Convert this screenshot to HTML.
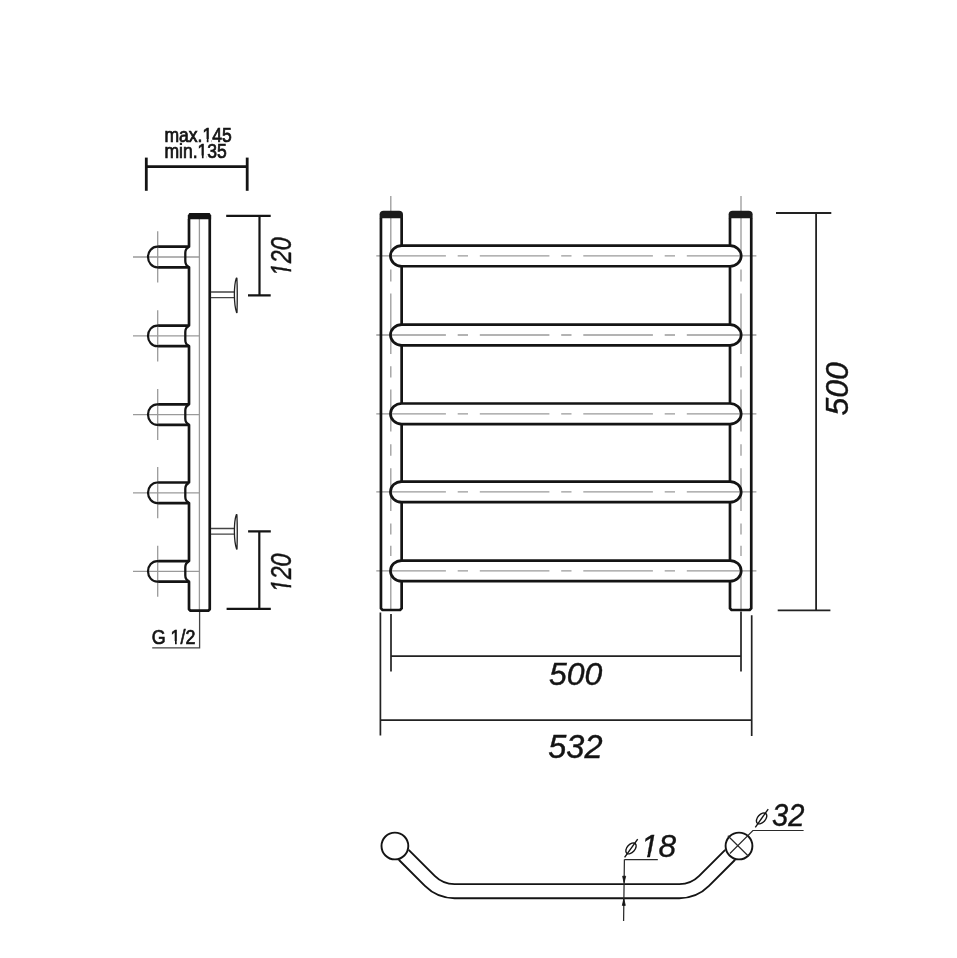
<!DOCTYPE html>
<html><head><meta charset="utf-8"><style>
html,body{margin:0;padding:0;background:#fff;width:957px;height:958px;overflow:hidden}
svg{display:block;will-change:transform}
text{font-family:"Liberation Sans",sans-serif}
</style></head><body>
<svg width="957" height="958" viewBox="0 0 957 958">
<defs><clipPath id="c1" clipPathUnits="userSpaceOnUse"><path clip-rule="evenodd" d="M-100,-100 H10000 V100 H-100 Z M42.26,1.90 L42.26,-2.48 L47.12,-2.48 L47.12,1.90 Z M48.92,1.90 L48.92,-2.48 L52.59,-2.48 L52.59,1.90 Z "/></clipPath><clipPath id="c2" clipPathUnits="userSpaceOnUse"><path clip-rule="evenodd" d="M-100,-100 H10000 V100 H-100 Z M36.84,1.90 L36.84,-2.48 L41.70,-2.48 L41.70,1.90 Z M43.50,1.90 L43.50,-2.48 L47.17,-2.48 L47.17,1.90 Z "/></clipPath><clipPath id="c3" clipPathUnits="userSpaceOnUse"><path clip-rule="evenodd" d="M-100,-100 H10000 V100 H-100 Z M21.43,1.98 L21.43,-2.58 L26.50,-2.58 L26.50,1.98 Z M28.37,1.98 L28.37,-2.58 L32.18,-2.58 L32.18,1.98 Z "/></clipPath><clipPath id="c4" clipPathUnits="userSpaceOnUse"><path clip-rule="evenodd" d="M-100,-100 H10000 V100 H-100 Z M0.00,2.83 L0.00,-3.68 L6.50,-3.68 L5.23,2.83 Z M7.91,2.83 L9.17,-3.68 L14.16,-3.68 L14.16,2.83 Z "/></clipPath><clipPath id="c5" clipPathUnits="userSpaceOnUse"><path clip-rule="evenodd" d="M-100,-100 H10000 V100 H-100 Z M0.00,2.83 L0.00,-3.68 L6.50,-3.68 L5.23,2.83 Z M7.91,2.83 L9.17,-3.68 L14.16,-3.68 L14.16,2.83 Z "/></clipPath><clipPath id="c6" clipPathUnits="userSpaceOnUse"><path clip-rule="evenodd" d="M-100,-100 H10000 V100 H-100 Z M0.00,3.10 L0.00,-4.02 L7.10,-4.02 L5.72,3.10 Z M8.64,3.10 L10.03,-4.02 L15.48,-4.02 L15.48,3.10 Z "/></clipPath></defs>
<rect width="957" height="958" fill="#fff"/>
<line x1="199.4" y1="219" x2="199.4" y2="611" stroke="#9a9a9a" stroke-width="1.3"/>
<polyline points="199.6,611 199.6,647.9 152.2,647.9" fill="none" stroke="#444" stroke-width="1.3"/>
<line x1="133" y1="257.00" x2="199" y2="257.00" stroke="#9a9a9a" stroke-width="1.3"/>
<line x1="157.7" y1="231.30" x2="157.7" y2="282.50" stroke="#9a9a9a" stroke-width="1.3"/>
<line x1="133" y1="335.90" x2="199" y2="335.90" stroke="#9a9a9a" stroke-width="1.3"/>
<line x1="157.7" y1="310.20" x2="157.7" y2="361.40" stroke="#9a9a9a" stroke-width="1.3"/>
<line x1="133" y1="414.60" x2="199" y2="414.60" stroke="#9a9a9a" stroke-width="1.3"/>
<line x1="157.7" y1="388.90" x2="157.7" y2="440.10" stroke="#9a9a9a" stroke-width="1.3"/>
<line x1="133" y1="492.80" x2="199" y2="492.80" stroke="#9a9a9a" stroke-width="1.3"/>
<line x1="157.7" y1="467.10" x2="157.7" y2="518.30" stroke="#9a9a9a" stroke-width="1.3"/>
<line x1="133" y1="571.35" x2="199" y2="571.35" stroke="#9a9a9a" stroke-width="1.3"/>
<line x1="157.7" y1="545.65" x2="157.7" y2="596.85" stroke="#9a9a9a" stroke-width="1.3"/>
<path d="M189.0,219.0 L189.0,246.70 L158.3,246.70 M158.3,267.30 L189.0,267.30 L189.0,325.60 L158.3,325.60 M158.3,346.20 L189.0,346.20 L189.0,404.30 L158.3,404.30 M158.3,424.90 L189.0,424.90 L189.0,482.50 L158.3,482.50 M158.3,503.10 L189.0,503.10 L189.0,561.05 L158.3,561.05 M158.3,581.65 L189.0,581.65 L189.0,609.2 L190.5,610.7 L208.25,610.7 L209.75,609.2 L209.75,219.0" fill="none" stroke="#141414" stroke-width="2.7" stroke-linejoin="round"/>
<path d="M158.8,246.70 L157.2,246.70 A9.2,10.3 0 0 0 157.2,267.30 L158.8,267.30" fill="none" stroke="#141414" stroke-width="2.2"/>
<path d="M188.7,247.30 C186.2,248.30 185.3,249.70 185.3,253.00 L185.3,261.00 C185.3,264.30 186.2,265.70 188.7,266.70" fill="none" stroke="#141414" stroke-width="2.3"/>
<path d="M158.8,325.60 L157.2,325.60 A9.2,10.3 0 0 0 157.2,346.20 L158.8,346.20" fill="none" stroke="#141414" stroke-width="2.2"/>
<path d="M188.7,326.20 C186.2,327.20 185.3,328.60 185.3,331.90 L185.3,339.90 C185.3,343.20 186.2,344.60 188.7,345.60" fill="none" stroke="#141414" stroke-width="2.3"/>
<path d="M158.8,404.30 L157.2,404.30 A9.2,10.3 0 0 0 157.2,424.90 L158.8,424.90" fill="none" stroke="#141414" stroke-width="2.2"/>
<path d="M188.7,404.90 C186.2,405.90 185.3,407.30 185.3,410.60 L185.3,418.60 C185.3,421.90 186.2,423.30 188.7,424.30" fill="none" stroke="#141414" stroke-width="2.3"/>
<path d="M158.8,482.50 L157.2,482.50 A9.2,10.3 0 0 0 157.2,503.10 L158.8,503.10" fill="none" stroke="#141414" stroke-width="2.2"/>
<path d="M188.7,483.10 C186.2,484.10 185.3,485.50 185.3,488.80 L185.3,496.80 C185.3,500.10 186.2,501.50 188.7,502.50" fill="none" stroke="#141414" stroke-width="2.3"/>
<path d="M158.8,561.05 L157.2,561.05 A9.2,10.3 0 0 0 157.2,581.65 L158.8,581.65" fill="none" stroke="#141414" stroke-width="2.2"/>
<path d="M188.7,561.65 C186.2,562.65 185.3,564.05 185.3,567.35 L185.3,575.35 C185.3,578.65 186.2,580.05 188.7,581.05" fill="none" stroke="#141414" stroke-width="2.3"/>
<path d="M187.8,219.3 L187.8,215.5 L189.3,213 L209.7,213 L211.2,215.5 L211.2,219.3 Z" fill="#141414"/>
<line x1="146.3" y1="166.6" x2="247.2" y2="166.6" stroke="#141414" stroke-width="2.8"/>
<line x1="146.3" y1="157.6" x2="146.3" y2="190.8" stroke="#141414" stroke-width="2.8"/>
<line x1="247.2" y1="157.6" x2="247.2" y2="190.8" stroke="#141414" stroke-width="2.8"/>
<g transform="translate(164.4,141.6) scale(0.9,1)"><text x="0" y="0" font-size="19.5" fill="#141414" stroke="#141414" stroke-width="0.75" clip-path="url(#c1)">max.145</text></g>
<g transform="translate(164.4,158.0) scale(0.9,1)"><text x="0" y="0" font-size="19.5" fill="#141414" stroke="#141414" stroke-width="0.75" clip-path="url(#c2)">min.135</text></g>
<g transform="translate(151.7,643.6) scale(0.88,1)"><text x="0" y="0" font-size="20.3" fill="#141414" stroke="#141414" stroke-width="0.7" clip-path="url(#c3)">G 1/2</text></g>
<path d="M211,292.00 L234.2,292.00 M211,297.60 L234.2,297.60" stroke="#444" stroke-width="1.4" fill="none"/>
<path d="M236.3,278.20 C233.7,285.80 233.7,303.80 236.6,312.60 L237.0,312.60 C237.3,302.80 237.3,286.80 236.9,278.20 Z" fill="#fff" stroke="#222" stroke-width="1.3" stroke-linejoin="round"/>
<path d="M211,528.50 L234.2,528.50 M211,534.10 L234.2,534.10" stroke="#444" stroke-width="1.4" fill="none"/>
<path d="M236.3,514.70 C233.7,522.30 233.7,540.30 236.6,549.10 L237.0,549.10 C237.3,539.30 237.3,523.30 236.9,514.70 Z" fill="#fff" stroke="#222" stroke-width="1.3" stroke-linejoin="round"/>
<path d="M226.2,215.9 L270.7,215.9 M259.5,215.9 L259.5,295.4 M248,295.4 L270.7,295.4" stroke="#141414" stroke-width="2.2" fill="none"/>
<path d="M248.1,531.3 L270.8,531.3 M259.3,531.3 L259.3,608.9 M226.6,608.9 L270.8,608.9" stroke="#141414" stroke-width="2.2" fill="none"/>
<g transform="translate(290.6,276.1) rotate(-90) scale(0.8,1)"><text x="0" y="0" font-size="29" font-style="italic" fill="#141414" stroke="#141414" stroke-width="0.45" clip-path="url(#c4)">120</text></g>
<g transform="translate(291.2,592.2) rotate(-90) scale(0.8,1)"><text x="0" y="0" font-size="29" font-style="italic" fill="#141414" stroke="#141414" stroke-width="0.45" clip-path="url(#c5)">120</text></g>
<line x1="376.3" y1="255.95" x2="756.5" y2="255.95" stroke="#9a9a9a" stroke-width="1.3" stroke-dasharray="69.6,11.8,10.3,11.8"/>
<line x1="376.3" y1="335.00" x2="756.5" y2="335.00" stroke="#9a9a9a" stroke-width="1.3" stroke-dasharray="69.6,11.8,10.3,11.8"/>
<line x1="376.3" y1="413.80" x2="756.5" y2="413.80" stroke="#9a9a9a" stroke-width="1.3" stroke-dasharray="69.6,11.8,10.3,11.8"/>
<line x1="376.3" y1="491.90" x2="756.5" y2="491.90" stroke="#9a9a9a" stroke-width="1.3" stroke-dasharray="69.6,11.8,10.3,11.8"/>
<line x1="376.3" y1="570.90" x2="756.5" y2="570.90" stroke="#9a9a9a" stroke-width="1.3" stroke-dasharray="69.6,11.8,10.3,11.8"/>
<line x1="390.8" y1="196" x2="390.8" y2="257" stroke="#9a9a9a" stroke-width="1.3"/>
<line x1="390.8" y1="269.4" x2="390.8" y2="281.4" stroke="#9a9a9a" stroke-width="1.3"/>
<line x1="390.8" y1="293.4" x2="390.8" y2="354" stroke="#9a9a9a" stroke-width="1.3"/>
<line x1="390.8" y1="366.2" x2="390.8" y2="377.6" stroke="#9a9a9a" stroke-width="1.3"/>
<line x1="390.8" y1="389.5" x2="390.8" y2="431.5" stroke="#9a9a9a" stroke-width="1.3"/>
<line x1="390.8" y1="444.2" x2="390.8" y2="455.7" stroke="#9a9a9a" stroke-width="1.3"/>
<line x1="390.8" y1="468.2" x2="390.8" y2="511" stroke="#9a9a9a" stroke-width="1.3"/>
<line x1="390.8" y1="523.5" x2="390.8" y2="534.5" stroke="#9a9a9a" stroke-width="1.3"/>
<line x1="390.8" y1="545.7" x2="390.8" y2="556" stroke="#9a9a9a" stroke-width="1.3"/>
<line x1="390.8" y1="575" x2="390.8" y2="609" stroke="#9a9a9a" stroke-width="1.3"/>
<line x1="741.0" y1="196" x2="741.0" y2="257" stroke="#9a9a9a" stroke-width="1.3"/>
<line x1="741.0" y1="269.4" x2="741.0" y2="281.4" stroke="#9a9a9a" stroke-width="1.3"/>
<line x1="741.0" y1="293.4" x2="741.0" y2="354" stroke="#9a9a9a" stroke-width="1.3"/>
<line x1="741.0" y1="366.2" x2="741.0" y2="377.6" stroke="#9a9a9a" stroke-width="1.3"/>
<line x1="741.0" y1="389.5" x2="741.0" y2="431.5" stroke="#9a9a9a" stroke-width="1.3"/>
<line x1="741.0" y1="444.2" x2="741.0" y2="455.7" stroke="#9a9a9a" stroke-width="1.3"/>
<line x1="741.0" y1="468.2" x2="741.0" y2="511" stroke="#9a9a9a" stroke-width="1.3"/>
<line x1="741.0" y1="523.5" x2="741.0" y2="534.5" stroke="#9a9a9a" stroke-width="1.3"/>
<line x1="741.0" y1="545.7" x2="741.0" y2="556" stroke="#9a9a9a" stroke-width="1.3"/>
<line x1="741.0" y1="575" x2="741.0" y2="609" stroke="#9a9a9a" stroke-width="1.3"/>
<path d="M380.95,218.0 L380.95,608.4 L382.55,610.0 L400.04999999999995,610.0 L401.65,608.4 L401.65,581.20" fill="none" stroke="#141414" stroke-width="2.7" stroke-linejoin="round"/>
<path d="M401.65,218.0 L401.65,245.65 M401.65,266.25 L401.65,324.70 M401.65,345.30 L401.65,403.50 M401.65,424.10 L401.65,481.60 M401.65,502.20 L401.65,560.60 " fill="none" stroke="#141414" stroke-width="2.7"/>
<path d="M379.59999999999997,218.3 L379.59999999999997,214.2 Q379.75,210.7 383.55,210.7 L399.04999999999995,210.7 Q402.84999999999997,210.7 403.0,214.2 L403.0,218.3 Z" fill="#1a1a1a"/>
<path d="M751.25,218.0 L751.25,608.4 L749.65,610.0 L731.6,610.0 L730.0,608.4 L730.0,581.20" fill="none" stroke="#141414" stroke-width="2.7" stroke-linejoin="round"/>
<path d="M730.0,218.0 L730.0,245.65 M730.0,266.25 L730.0,324.70 M730.0,345.30 L730.0,403.50 M730.0,424.10 L730.0,481.60 M730.0,502.20 L730.0,560.60 " fill="none" stroke="#141414" stroke-width="2.7"/>
<path d="M728.65,218.3 L728.65,214.2 Q728.8,210.7 732.6,210.7 L748.65,210.7 Q752.45,210.7 752.6,214.2 L752.6,218.3 Z" fill="#1a1a1a"/>
<path d="M401.65,245.65 L730.0,245.65 A11.2,10.3 0 0 1 730.0,266.25 L401.65,266.25 A11.2,10.3 0 0 1 401.65,245.65 Z" fill="none" stroke="#141414" stroke-width="2.7"/>
<path d="M401.65,324.70 L730.0,324.70 A11.2,10.3 0 0 1 730.0,345.30 L401.65,345.30 A11.2,10.3 0 0 1 401.65,324.70 Z" fill="none" stroke="#141414" stroke-width="2.7"/>
<path d="M401.65,403.50 L730.0,403.50 A11.2,10.3 0 0 1 730.0,424.10 L401.65,424.10 A11.2,10.3 0 0 1 401.65,403.50 Z" fill="none" stroke="#141414" stroke-width="2.7"/>
<path d="M401.65,481.60 L730.0,481.60 A11.2,10.3 0 0 1 730.0,502.20 L401.65,502.20 A11.2,10.3 0 0 1 401.65,481.60 Z" fill="none" stroke="#141414" stroke-width="2.7"/>
<path d="M401.65,560.60 L730.0,560.60 A11.2,10.3 0 0 1 730.0,581.20 L401.65,581.20 A11.2,10.3 0 0 1 401.65,560.60 Z" fill="none" stroke="#141414" stroke-width="2.7"/>
<path d="M776,213 L831.3,213 M816.1,213 L816.1,610.4 M777.7,610.4 L830.4,610.4" stroke="#222" stroke-width="1.8" fill="none"/>
<g transform="translate(848.3,415.6) rotate(-90)"><text x="0" y="0" font-size="32" font-style="italic" fill="#141414" stroke="#141414" stroke-width="0.4">500</text></g>
<path d="M391,614 L391,671.4 M741,611.5 L741,671.4 M391,656.1 L741,656.1" stroke="#222" stroke-width="1.7" fill="none"/>
<path d="M380.4,612.4 L380.4,735.6 M751.7,615.2 L751.7,736 M380.4,720.2 L751.7,720.2" stroke="#222" stroke-width="1.7" fill="none"/>
<g transform="translate(549,684.6)"><text x="0" y="0" font-size="32" font-style="italic" fill="#141414" stroke="#141414" stroke-width="0.4">500</text></g>
<g transform="translate(548.3,757.6)"><text x="0" y="0" font-size="32.5" font-style="italic" fill="#141414" stroke="#141414" stroke-width="0.4">532</text></g>
<circle cx="394.9" cy="846" r="13.4" fill="none" stroke="#141414" stroke-width="1.9"/>
<circle cx="739" cy="846" r="13.4" fill="none" stroke="#141414" stroke-width="1.9"/>
<path d="M408.67,849.87 L434.70,875.90 A28,28 0 0 0 454.50,884.10 L679.40,884.10 A28,28 0 0 0 699.20,875.90 L725.23,849.87" fill="none" stroke="#141414" stroke-width="1.9"/>
<path d="M398.77,859.77 L424.90,885.90 A42,42 0 0 0 454.60,898.20 L679.30,898.20 A42,42 0 0 0 709.00,885.90 L735.13,859.77" fill="none" stroke="#141414" stroke-width="1.9"/>
<path d="M727.8,835.8 L748.5,856.2 M729.9,853.5 L752.9,830.5 L803.6,830.5" fill="none" stroke="#2a2a2a" stroke-width="1.2"/>
<ellipse cx="761.6" cy="818.4" rx="3.9" ry="6.4" transform="rotate(42 761.6 818.4)" fill="none" stroke="#141414" stroke-width="1.4"/>
<line x1="755.3" y1="827.4" x2="768.2" y2="809.1" stroke="#141414" stroke-width="1.4"/>
<g transform="translate(772.0,825.7) scale(0.91,1)"><text x="0" y="0" font-size="32" font-style="italic" fill="#141414" stroke="#141414" stroke-width="0.4">32</text></g>
<path d="M624.4,859.5 L657.8,859.5 M624.4,859.5 L623.6,921" fill="none" stroke="#2a2a2a" stroke-width="1.25"/>
<path d="M622.6,876.2 L624.1,882.6 L625.7,876.2 Z M622.3,905.4 L623.8,899 L625.3,905.4 Z" fill="#141414" stroke="#141414" stroke-width="0.8"/>
<ellipse cx="631.0" cy="848.4" rx="3.9" ry="6.4" transform="rotate(42 631.0 848.4)" fill="none" stroke="#141414" stroke-width="1.4"/>
<line x1="624.6" y1="857.4" x2="637.7" y2="839.1" stroke="#141414" stroke-width="1.4"/>
<g transform="translate(640.8,856.7)"><text x="0" y="0" font-size="31.7" font-style="italic" fill="#141414" stroke="#141414" stroke-width="0.35" clip-path="url(#c6)">18</text></g>
</svg></body></html>
